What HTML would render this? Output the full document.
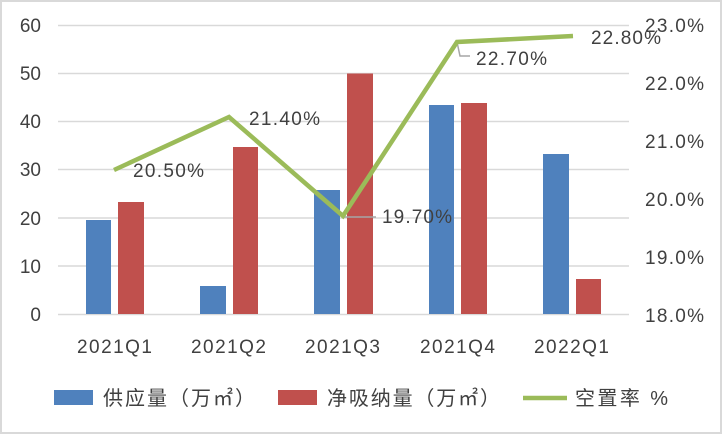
<!DOCTYPE html>
<html><head><meta charset="utf-8"><style>
html,body{margin:0;padding:0;background:#fff}
svg{display:block}
text{font-family:"Liberation Sans","Noto Sans CJK SC",sans-serif;fill:#404040}
</style></head><body>
<svg width="722" height="434" viewBox="0 0 722 434" xmlns="http://www.w3.org/2000/svg">
<rect x="1" y="1" width="720" height="432" fill="#fff" stroke="#d9d9d9" stroke-width="2"/>
<g stroke="#d9d9d9" stroke-width="1.5">
<line x1="58" x2="629" y1="25.5" y2="25.5"/>
<line x1="58" x2="629" y1="73.5" y2="73.5"/>
<line x1="58" x2="629" y1="121.5" y2="121.5"/>
<line x1="58" x2="629" y1="169.5" y2="169.5"/>
<line x1="58" x2="629" y1="218" y2="218"/>
<line x1="58" x2="629" y1="266" y2="266"/>
<line x1="58" x2="629" y1="314.5" y2="314.5"/>
</g>
<g font-size="19" text-anchor="end">
<text x="41" y="32">60</text><text x="41" y="80">50</text><text x="41" y="128">40</text>
<text x="41" y="176">30</text><text x="41" y="225">20</text><text x="41" y="273">10</text><text x="41" y="321">0</text>
</g>
<g font-size="19">
<text x="645" y="32" textLength="59">23.0%</text><text x="645" y="90" textLength="59">22.0%</text><text x="645" y="148" textLength="59">21.0%</text>
<text x="645" y="206" textLength="59">20.0%</text><text x="645" y="264" textLength="59">19.0%</text><text x="645" y="322" textLength="59">18.0%</text>
</g>
<g fill="#4f81bd">
<rect x="86" y="220" width="25" height="94"/>
<rect x="200" y="286" width="26" height="28"/>
<rect x="314" y="190" width="26" height="124"/>
<rect x="429" y="105" width="25" height="209"/>
<rect x="543" y="154" width="26" height="160"/>
</g>
<g fill="#c0504d">
<rect x="118" y="202" width="26" height="112"/>
<rect x="233" y="147" width="25" height="167"/>
<rect x="347" y="73.5" width="26" height="240.5"/>
<rect x="461" y="103" width="26" height="211"/>
<rect x="576" y="279" width="25" height="35"/>
</g>
<g stroke="#a6a6a6" stroke-width="1.5" fill="none">
<line x1="343" y1="217" x2="376" y2="217"/>
<polyline points="457,42 460,56 470,56"/>
</g>
<polyline points="114,170 229,117 343,216 457,42 573,36" fill="none" stroke="#9bbb59" stroke-width="4.5" stroke-linejoin="miter"/>
<g font-size="19">
<text x="133" y="177" textLength="71">20.50%</text>
<text x="249" y="125" textLength="71">21.40%</text>
<text x="382" y="223" textLength="70">19.70%</text>
<text x="476" y="65" textLength="71">22.70%</text>
<text x="591" y="44" textLength="70">22.80%</text>
</g>
<g font-size="19">
<text x="77" y="353" textLength="75">2021Q1</text><text x="191" y="353" textLength="75">2021Q2</text><text x="305" y="353" textLength="75">2021Q3</text>
<text x="420" y="353" textLength="75">2021Q4</text><text x="534" y="353" textLength="75">2022Q1</text>
</g>
<rect x="54" y="390" width="39" height="15" fill="#4f81bd"/>
<text x="103" y="405" font-size="20" textLength="152">供应量（万㎡）</text>
<rect x="278" y="390" width="39" height="15" fill="#c0504d"/>
<text x="327" y="405" font-size="20" textLength="173">净吸纳量（万㎡）</text>
<line x1="523" y1="398" x2="567" y2="398" stroke="#9bbb59" stroke-width="4.5"/>
<text x="575" y="405" font-size="20" textLength="93">空置率 %</text>
</svg>
</body></html>
